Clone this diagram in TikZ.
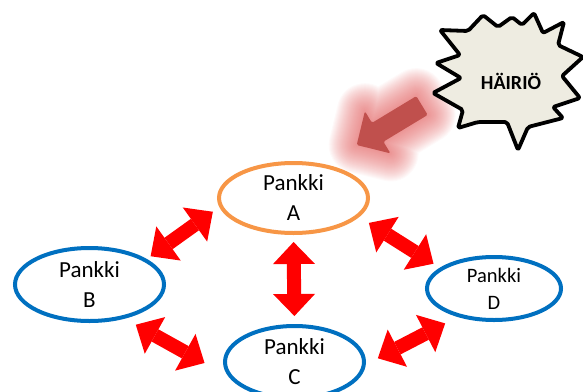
\documentclass[tikz,border=0pt]{standalone}
\usepackage{fontspec}
\setmainfont{Carlito}
\usetikzlibrary{shapes.geometric,arrows.meta}
\definecolor{bankorange}{HTML}{F79646}
\definecolor{bankblue}{HTML}{0070C0}
\definecolor{linkred}{HTML}{FF0000}
\definecolor{alertred}{HTML}{C0504D}
\definecolor{glowred}{RGB}{225,90,90}
\definecolor{burstfill}{HTML}{EEECE1}
\begin{document}
\begin{tikzpicture}[x=1pt,y=-1pt,
  bank/.style={ellipse, line width=4pt, inner sep=0pt, align=center, text=black},
  bigtext/.style={font=\fontsize{23}{30}\selectfont},
  link/.style={draw=linkred, line width=14pt,
    {Triangle[length=22pt,width=42pt,line width=0pt]}-{Triangle[length=22pt,width=42pt,line width=0pt]}},
  alertarrow/.style={rounded corners=1.5pt},
]
\useasboundingbox (0,0) rectangle (583,391);

% glow around the alert arrow
\foreach \w in {56,54,...,2} {
  \draw[glowred, line width=\w pt, opacity=0.034, line join=round]
    (416.3,96.1) -- (427.7,114.9) -- (383.4,141.7) -- (390.5,153.4) -- (356.7,145)
    -- (364.9,111.2) -- (372.0,122.9) -- cycle;
}

% explosion shape
\draw[line width=3.8pt, fill=burstfill, line join=round, rounded corners=2pt]
  (440,30) -- (468,31) -- (483,15) -- (498,27) -- (512,17) -- (522,25) -- (534,13)
  -- (543,33) -- (564,22) -- (558,45) -- (583,57) -- (562,76) -- (580,98) -- (553,107)
  -- (563,118) -- (528,127) -- (518,150) -- (507,122) -- (478,122) -- (458,128)
  -- (463,110) -- (433,93) -- (461,78) -- (436,63) -- (460,55) -- cycle;
\node[font=\bfseries\fontsize{20}{22}\selectfont, inner sep=0pt] (alert) at (511,81) {HÄIRIÖ};

% alert arrow
\fill[alertred, alertarrow]
  (416.3,96.1) -- (427.7,114.9) -- (383.4,141.7) -- (390.5,153.4) -- (356.7,145)
  -- (364.9,111.2) -- (372.0,122.9) -- cycle;

% banks
\node[bank, draw=bankorange, minimum width=149pt, minimum height=70pt, bigtext] (A) at (293.5,198) {Pankki\\A};
\node[bank, draw=bankblue, minimum width=149pt, minimum height=73pt, bigtext] (B) at (89.5,284.5) {Pankki\\B};
\node[bank, draw=bankblue, minimum width=139pt, minimum height=72pt, bigtext] (C) at (294.5,362) {Pankki\\C};
\node[bank, draw=bankblue, minimum width=134pt, minimum height=63pt, font=\fontsize{20.5}{27}\selectfont] (D) at (494,288.5) {Pankki\\D};

% links
\draw[link, shorten <=8pt, shorten >=4.7pt] (A.187.5) -- (B.24.5);
\draw[link, shorten <=7pt, shorten >=8pt] (A.south) -- (C.north);
\draw[link, shorten <=11.3pt, shorten >=7.5pt] (A.344.3) -- (D.159.7);
\draw[link, shorten <=12.5pt, shorten >=27pt] (B.316.9) -- (C.192.4);
\draw[link, shorten <=13.5pt, shorten >=14pt] (C.358.3) -- (D.218.3);
\end{tikzpicture}
\end{document}
